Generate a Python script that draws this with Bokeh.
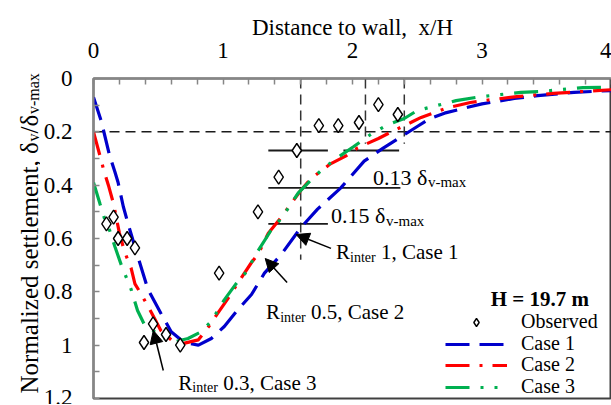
import math
from bokeh.plotting import figure
from bokeh.layouts import row
from bokeh.models import (Range1d, FixedTicker, CustomJSTickFormatter, Label, Arrow,
                          NormalHead, Legend, LegendItem)
from bokeh.embed import file_html
from bokeh.resources import INLINE

FONT = "Liberation Serif"
NB = "\u00a0"

# ---------------- data ----------------
obs_x = [0.10, 0.155, 0.19, 0.26, 0.32, 0.39, 0.46, 0.56, 0.67, 0.97, 1.27, 1.43, 1.57, 1.74, 1.89, 2.05, 2.20, 2.35]
obs_y = [0.545, 0.52, 0.60, 0.60, 0.635, 0.99, 0.92, 0.96, 1.0, 0.73, 0.50, 0.37, 0.27, 0.177, 0.177, 0.165, 0.098, 0.135]

case1_x = [0.0, 0.06, 0.085, 0.125, 0.165, 0.19, 0.23, 0.27, 0.35, 0.42, 0.52, 0.6, 0.7, 0.81, 0.91, 1.01, 1.11,
           1.22, 1.32, 1.45, 1.6, 1.73, 1.91, 2.09, 2.24, 2.37, 2.5, 2.6, 2.71, 2.89, 3.0, 3.25, 3.43, 3.71, 4.0]
case1_y = [0.07, 0.16, 0.21, 0.29, 0.35, 0.39, 0.48, 0.55, 0.68, 0.79, 0.88, 0.95, 0.99, 1.0, 0.975, 0.93, 0.87,
           0.81, 0.73, 0.66, 0.56, 0.49, 0.41, 0.31, 0.26, 0.22, 0.18, 0.15, 0.13, 0.108, 0.095, 0.075, 0.064, 0.052, 0.045]

case2_x = [0.0, 0.05, 0.08, 0.115, 0.155, 0.2, 0.24, 0.29, 0.32, 0.37, 0.45, 0.52, 0.6, 0.68, 0.81, 0.89, 0.96,
           1.06, 1.11, 1.22, 1.27, 1.35, 1.45, 1.6, 1.68, 1.83, 1.95, 2.04, 2.2, 2.3, 2.45, 2.53, 2.73, 2.91, 3.01,
           3.27, 3.55, 4.0]
case2_y = [0.2, 0.29, 0.345, 0.40, 0.47, 0.58, 0.65, 0.71, 0.77, 0.81, 0.88, 0.945, 0.98, 0.995, 0.98, 0.93, 0.88,
           0.81, 0.77, 0.69, 0.66, 0.58, 0.52, 0.42, 0.375, 0.32, 0.29, 0.26, 0.225, 0.2, 0.165, 0.146, 0.11, 0.09, 0.083,
           0.068, 0.056, 0.042]

case3_x = [0.0, 0.05, 0.085, 0.125, 0.165, 0.215, 0.29, 0.34, 0.39, 0.5, 0.6, 0.73, 0.83, 0.91, 1.01, 1.1, 1.19,
           1.24, 1.37, 1.45, 1.58, 1.68, 1.78, 1.89, 2.01, 2.14, 2.26, 2.4, 2.5, 2.8, 2.99, 3.3, 3.47, 3.78, 4.0]
case3_y = [0.39, 0.47, 0.525, 0.57, 0.63, 0.70, 0.79, 0.87, 0.92, 0.96, 0.99, 0.975, 0.95, 0.91, 0.83, 0.77, 0.72,
           0.67, 0.57, 0.525, 0.43, 0.38, 0.335, 0.295, 0.255, 0.21, 0.176, 0.15, 0.12, 0.083, 0.068, 0.052, 0.048,
           0.034, 0.033]

x_ticks = [0, 1, 2, 3, 4]
x_minor = [0.2, 0.4, 0.6, 0.8, 1.2, 1.4, 1.6, 1.8, 2.2, 2.4, 2.6, 2.8, 3.2, 3.4, 3.6, 3.8]
y_ticks = [0, 0.2, 0.4, 0.6, 0.8, 1.0, 1.2]
y_minor = [0.1, 0.3, 0.5, 0.7, 0.9, 1.1]

threshold_y = [0.2, 0.2]
threshold_x = [0.0, 4.0]
guide_x = [1.6, 2.1, 2.4]
guide_top = [0.0, 0.0, 0.0]
guide_bottom = [0.68, 0.245, 0.245]
level_y = [0.27, 0.27, 0.41, 0.545]
level_x0 = [1.35, 1.93, 1.35, 1.35]
level_x1 = [1.81, 2.36, 2.37, 1.81]

series_labels = ["Observed", "Case 1", "Case 2", "Case 3"]

# ---------------- text helpers ----------------
W = {' ': 250, NB: 250, '.': 250, ',': 250, '/': 278, '-': 333, 'C': 667, 'R': 667, 'N': 722,
     'a': 444, 'c': 444, 'd': 500, 'e': 444, 'i': 278, 'l': 278, 'm': 778, 'n': 500, 'o': 500,
     'r': 333, 's': 389, 't': 278, 'v': 500, 'x': 500, 'z': 444, 'δ': 500}


def text_width(txt, size):
    return sum(W.get(ch, 500) for ch in txt) / 1000.0 * size


def rich(fig, x, y, pieces, angle=0.0):
    adv = 0.0
    for txt, size, drop in pieces:
        if angle == 0.0:
            xo, yo = adv, -drop
        else:
            xo, yo = drop, adv
        fig.add_layout(Label(x=x, y=y, x_offset=xo, y_offset=yo, text=txt, angle=angle,
                             text_font=FONT, text_font_size=f"{size}px", text_color="black",
                             text_align="left", text_baseline="alphabetic"))
        adv += text_width(txt, size)


H = 404
STRIP = 40
TOTAL_W = 611

# ---------------- y-title strip ----------------
yt = figure(width=STRIP, height=H, x_range=Range1d(0, STRIP), y_range=Range1d(0, H),
            x_axis_location=None, y_axis_location=None, output_backend="svg", toolbar_location=None,
            min_border_left=0, min_border_right=0, min_border_top=0, min_border_bottom=0)
yt.frame_align = False
yt.grid.visible = False
yt.outline_line_color = None
rich(yt, 29, 11, [("Normalized settlement, δ", 25, 0), ("v", 16, 4), ("/δ", 25, 0), ("v-max", 16, 4)],
     angle=math.pi / 2)

# ---------------- main figure ----------------
p = figure(width=TOTAL_W - STRIP, height=H, x_range=Range1d(0, 4), y_range=Range1d(1.2, 0),
           x_axis_location="above", output_backend="svg", toolbar_location=None,
           min_border_left=52, min_border_right=0, min_border_top=78, min_border_bottom=6)
p.frame_align = False
p.xgrid.visible = False
p.ygrid.visible = False
p.outline_line_color = "#404040"
p.outline_line_width = 2

for ax in (p.xaxis[0], p.yaxis[0]):
    ax.axis_line_color = "#868686"
    ax.axis_line_width = 2
    ax.major_tick_line_color = "#868686"
    ax.minor_tick_line_color = "#868686"
    ax.major_tick_line_width = 1.5
    ax.minor_tick_line_width = 1.5
    ax.major_tick_in = 6
    ax.major_tick_out = 0
    ax.minor_tick_in = 6
    ax.minor_tick_out = 0
    ax.major_label_text_font = FONT
    ax.major_label_text_font_size = "23px"
    ax.major_label_text_color = "black"

p.xaxis[0].ticker = FixedTicker(ticks=x_ticks, minor_ticks=x_minor)
p.xaxis[0].major_label_standoff = 21
p.xaxis[0].axis_label = "Distance to wall," + NB + NB + "x/H"
p.xaxis[0].axis_label_text_font = FONT
p.xaxis[0].axis_label_text_font_size = "23px"
p.xaxis[0].axis_label_text_font_style = "normal"
p.xaxis[0].axis_label_text_color = "black"
p.xaxis[0].axis_label_standoff = 0
p.yaxis[0].ticker = FixedTicker(ticks=y_ticks, minor_ticks=y_minor)
p.yaxis[0].major_label_standoff = 21
p.yaxis[0].formatter = CustomJSTickFormatter(code="return String(Number(tick.toFixed(1)));")

# guides
p.line(threshold_x, threshold_y, line_color="#1a1a1a", line_width=1.5, line_dash="10 6")
p.segment(x0=guide_x, y0=guide_top, x1=guide_x, y1=guide_bottom, line_color="#333333",
          line_width=1.5, line_dash="10 6")
p.segment(x0=level_x0, y0=level_y, x1=level_x1, y1=level_y, line_color="#1a1a1a", line_width=1.8)

# curves
r1 = p.line(case1_x, case1_y, line_color="#0000CC", line_width=3.2, line_dash="24 10")
r2 = p.line(case2_x, case2_y, line_color="#FF0000", line_width=3.2, line_dash="24 10 3 10")
r3 = p.line(case3_x, case3_y, line_color="#00B050", line_width=3.2, line_dash="24 11 3 11 3 11")
r0 = p.scatter(obs_x, obs_y, marker="diamond", size=14, fill_color="white", line_color="black", line_width=1.4)

# annotations
rich(p, 2.158, 0.371, [("0.13 δ", 22, 0), ("v-max", 15, 5)])
rich(p, 1.834, 0.514, [("0.15 δ", 22, 0), ("v-max", 15, 5)])
rich(p, 1.873, 0.652, [("R", 21, 0), ("inter", 14, 5), (NB + "1, Case 1", 21, 0)])
rich(p, 1.333, 0.877, [("R", 21, 0), ("inter", 14, 5), (NB + "0.5, Case 2", 21, 0)])
rich(p, 0.655, 1.14, [("R", 21, 0), ("inter", 14, 5), (NB + "0.3, Case 3", 21, 0)])

arrows = [((1.834, 0.637), (1.565, 0.585)),
          ((1.495, 0.765), (1.326, 0.675)),
          ((0.539, 1.095), (0.462, 0.945))]
for (xs, ys), (xe, ye) in arrows:
    p.add_layout(Arrow(end=NormalHead(size=13, fill_color="black", line_color="black", line_width=1),
                       x_start=xs, y_start=ys, x_end=xe, y_end=ye, line_width=1.5, line_color="black"))

# legend (one row per legend so rows can sit close together)
p.add_layout(Label(x=3.067, y=0.825, text="H = 19.7 m", text_font=FONT, text_font_size="21px",
                   text_font_style="bold", text_align="left", text_baseline="alphabetic",
                   text_color="black"))
legend_rows = [65, 43, 22, 0]
for lab, rend, ly in zip(series_labels, [r0, r1, r2, r3], legend_rows):
    lg = Legend(items=[LegendItem(label=lab, renderers=[rend])],
                location=(352, ly), padding=0, margin=0, spacing=0,
                glyph_width=62, glyph_height=20, label_height=20, label_standoff=14,
                label_text_font=FONT, label_text_font_size="20px", label_text_color="black",
                border_line_alpha=0, background_fill_alpha=0)
    p.add_layout(lg)

layout = row(yt, p, spacing=0)
open("out.html", "w").write(file_html(layout, INLINE))
